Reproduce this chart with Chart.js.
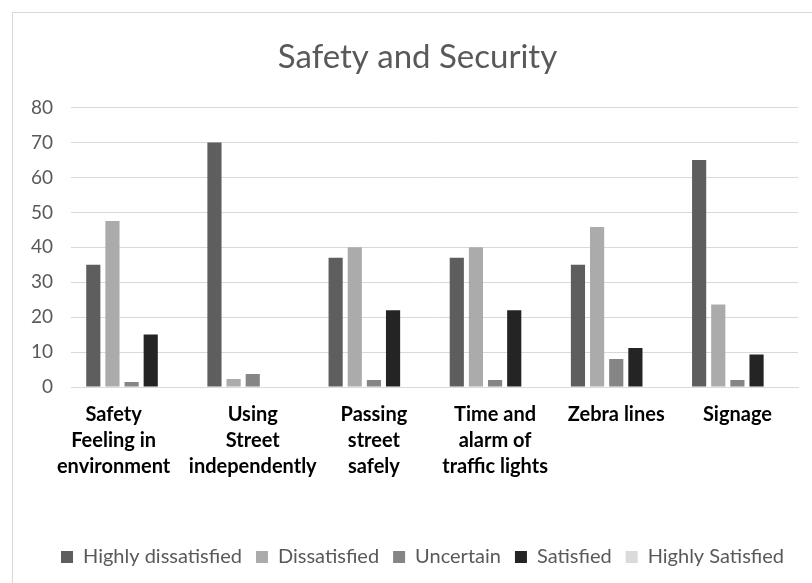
<!DOCTYPE html>
<html lang="en">
<head>
<meta charset="UTF-8">
<title>Safety and Security</title>
<script src="https://cdn.jsdelivr.net/npm/chart.js@4"></script>
<style>
  html, body { margin: 0; padding: 0; background: #fff; }
  #wrap { position: relative; width: 812px; height: 583px; }
  #frame {
    position: absolute; left: 12px; top: 12px; right: 0; bottom: 0;
    border-top: 1px solid #d9d9d9; border-left: 1px solid #d9d9d9;
    pointer-events: none;
  }
</style>
</head>
<body>
<div id="wrap">
  <canvas id="chart" width="812" height="583"></canvas>
  <div id="frame"></div>
</div>
<script>
// categories (x axis), split into lines as in the original
const categories = [
  ['Safety', 'Feeling in', 'environment'],
  ['Using', 'Street', 'independently'],
  ['Passing', 'street', 'safely'],
  ['Time and', 'alarm of', 'traffic lights'],
  ['Zebra lines'],
  ['Signage']
];

// series values
const highlyDissatisfied = [35, 70, 37, 37, 35, 65];
const dissatisfied       = [47.5, 2.3, 40, 40, 45.8, 23.6];
const uncertain          = [1.4, 3.7, 2, 2, 8, 2];
const satisfied          = [15, 0, 22, 22, 11.2, 9.3];
const highlySatisfied    = [0, 0, 0, 0, 0, 0];

const yTicks = [0, 10, 20, 30, 40, 50, 60, 70, 80];

const grey = '#595959';
const font = 'Lato, "Open Sans", sans-serif';

// small position tweaks: title sits right of centre, first category label sits left
const nudges = {
  id: 'nudges',
  afterLayout(chart) {
    if (chart.titleBlock) chart.titleBlock.left += 25;
  },
  beforeDraw(chart) {
    const items = chart.scales.x.getLabelItems();
    if (items.length && !items[0]._nudged) {
      items[0].options.translation[0] -= 18;
      items[0]._nudged = true;
    }
  }
};

const ctx = document.getElementById('chart').getContext('2d');
const chart = new Chart(ctx, {
  type: 'bar',
  data: {
    labels: categories,
    datasets: [
      { label: 'Highly dissatisfied', data: highlyDissatisfied, backgroundColor: '#5e5e5e' },
      { label: 'Dissatisfied', data: dissatisfied, backgroundColor: '#ababab' },
      { label: 'Uncertain', data: uncertain, backgroundColor: '#858585' },
      { label: 'Satisfied', data: satisfied, backgroundColor: '#242424' },
      { label: 'Highly Satisfied', data: highlySatisfied, backgroundColor: '#dadada' }
    ]
  },
  options: {
    responsive: false,
    animation: false,
    layout: { padding: { left: 12, right: 14, top: 24, bottom: 6 } },
    datasets: {
      bar: { barPercentage: 0.74, categoryPercentage: 0.79 }
    },
    plugins: {
      title: {
        display: true,
        text: 'Safety and Security',
        color: grey,
        font: { family: font, size: 33, weight: 'normal' },
        padding: { top: 14, bottom: 30 }
      },
      legend: {
        position: 'bottom',
        align: 'end',
        labels: {
          color: grey,
          boxWidth: 12,
          boxHeight: 12,
          padding: 14,
          font: { family: font, size: 20 }
        }
      },
      tooltip: { enabled: false }
    },
    scales: {
      x: {
        grid: { display: false, drawTicks: false },
        border: { color: '#d9d9d9' },
        ticks: {
          color: '#000',
          padding: 15,
          maxRotation: 0,
          autoSkip: false,
          font: { family: font, size: 20, weight: 'bold', lineHeight: '26px' }
        },
        afterFit: (scale) => { scale.height = 146; }
      },
      y: {
        min: 0,
        max: 80,
        afterBuildTicks: (scale) => { scale.ticks = yTicks.map(v => ({ value: v })); },
        grid: { color: '#d9d9d9', drawTicks: false },
        border: { display: false },
        ticks: {
          color: grey,
          padding: 18,
          font: { family: font, size: 19 }
        },
        afterFit: (scale) => { scale.width = 59; }
      }
    }
  },
  plugins: [nudges]
});
</script>
</body>
</html>
